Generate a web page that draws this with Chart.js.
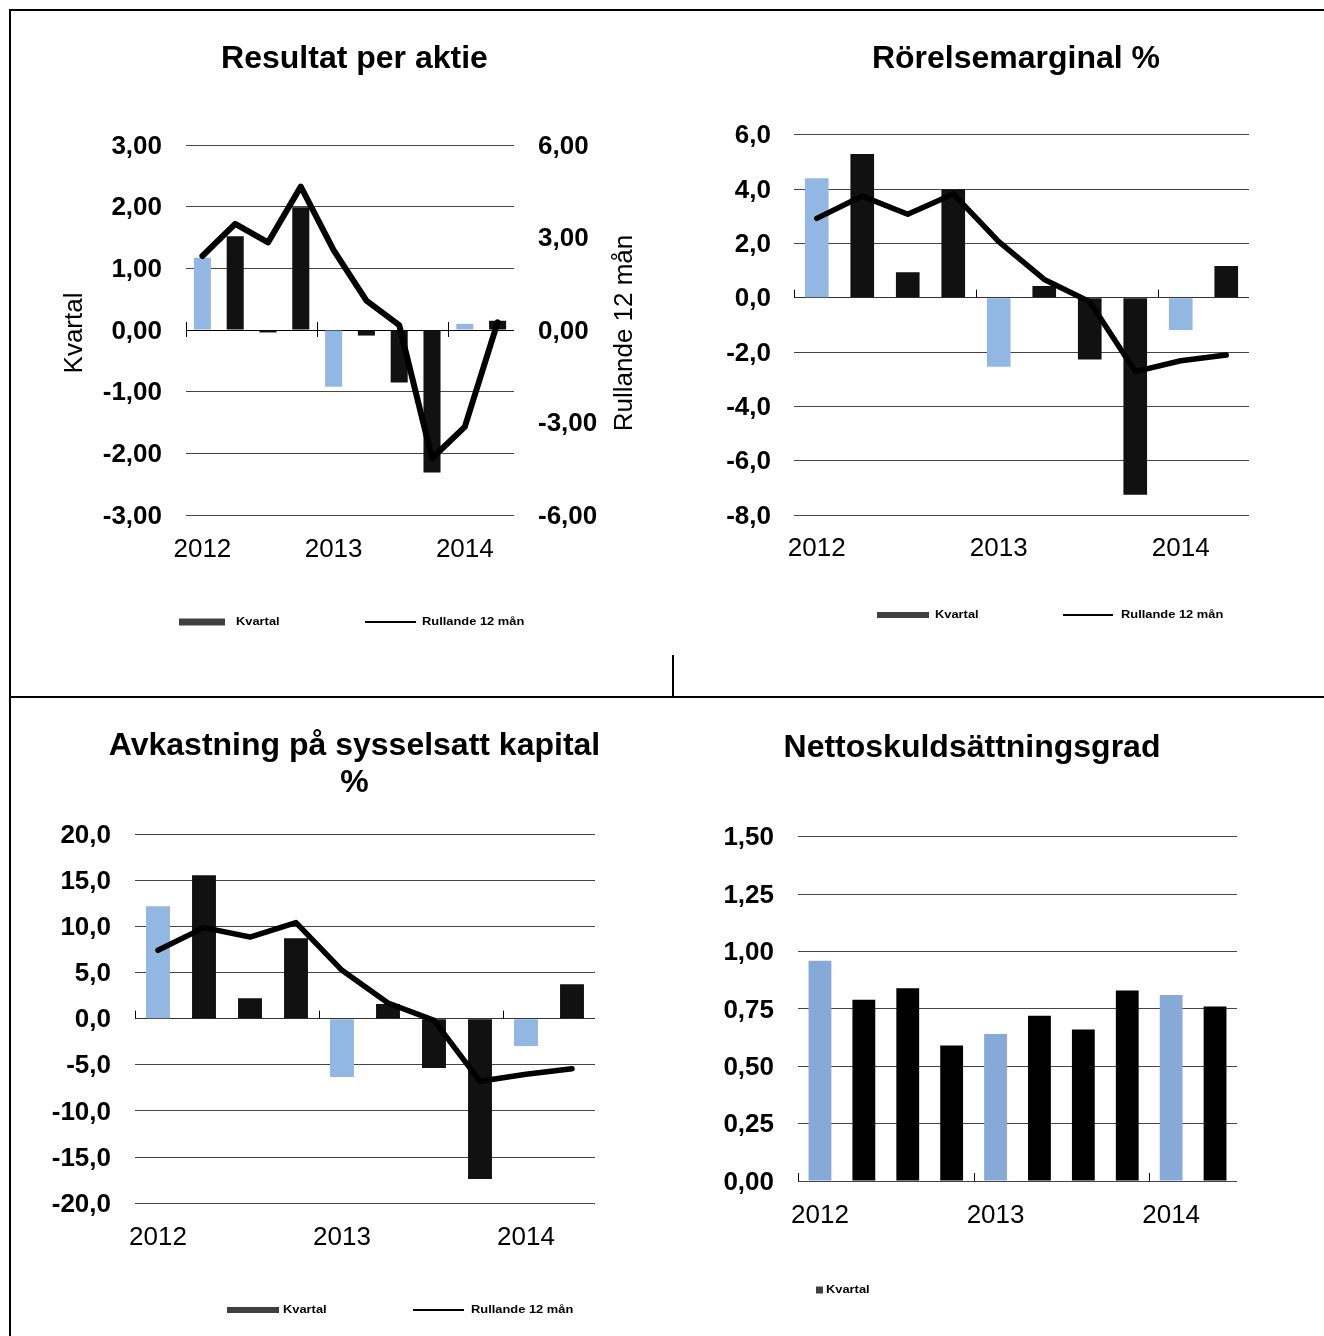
<!DOCTYPE html>
<html>
<head>
<meta charset="utf-8">
<script src="https://cdn.jsdelivr.net/npm/chart.js@4.4.1/dist/chart.umd.min.js"></script>
<style>
  html, body { margin: 0; padding: 0; background: #fff; }
  body { width: 1324px; height: 1336px; position: relative; overflow: hidden; }
  canvas { position: absolute; }
  .rule { position: absolute; background: #000; }
</style>
</head>
<body>
<div class="rule" style="left:9px;top:9px;width:1315px;height:2px"></div>
<div class="rule" style="left:9px;top:9px;width:2px;height:1327px"></div>
<div class="rule" style="left:9px;top:696px;width:1315px;height:2px"></div>
<div class="rule" style="left:672px;top:655px;width:2px;height:42px"></div>

<canvas id="eps" width="660" height="680" style="left:10px;top:12px"></canvas>
<canvas id="margin" width="640" height="680" style="left:680px;top:12px"></canvas>
<canvas id="roce" width="660" height="636" style="left:10px;top:700px"></canvas>
<canvas id="gearing" width="640" height="636" style="left:680px;top:700px"></canvas>

<script>
const FONT = '"Liberation Sans", Arial, sans-serif';
Chart.defaults.font.family = FONT;
Chart.defaults.color = '#000';

// quarters 2012 K1 .. 2014 K2
const quarters = ['2012 K1', '2012 K2', '2012 K3', '2012 K4', '2013 K1', '2013 K2', '2013 K3', '2013 K4', '2014 K1', '2014 K2'];
const yearTicks = ['2012', '', '', '', '2013', '', '', '', '2014', ''];

const epsQuarter = [1.17, 1.52, -0.04, 1.99, -0.92, -0.09, -0.85, -2.31, 0.10, 0.15];
const epsRolling = [2.40, 3.44, 2.84, 4.65, 2.59, 0.95, 0.16, -4.16, -3.14, 0.25];

const marginQuarter = [4.40, 5.29, 0.94, 3.99, -2.54, 0.43, -2.28, -7.25, -1.19, 1.17];
const marginRolling = [2.92, 3.74, 3.07, 3.82, 2.06, 0.67, -0.15, -2.72, -2.32, -2.11];

const roceQuarter = [12.17, 15.52, 2.20, 8.70, -6.32, 1.59, -5.34, -17.36, -2.96, 3.72];
const roceRolling = [7.40, 9.86, 8.84, 10.40, 5.23, 1.70, -0.18, -6.79, -6.03, -5.42];

const gearingQuarter = [0.96, 0.79, 0.84, 0.59, 0.64, 0.72, 0.66, 0.83, 0.81, 0.76];

const fmt = d => v => Number(v).toFixed(d).replace('.', ',');

// small tick marks on the zero line where each year starts
const groupTicks = {
  id: 'groupTicks',
  beforeDatasetsDraw(chart, args, opts) {
    const x = chart.scales.x, y = chart.scales.y;
    const zero = y.getPixelForValue(0);
    const half = (x.getPixelForValue(1) - x.getPixelForValue(0)) / 2;
    const ctx = chart.ctx;
    ctx.save();
    ctx.strokeStyle = '#000';
    ctx.lineWidth = 1;
    ctx.beginPath();
    yearTicks.forEach((t, i) => {
      if (!t) return;
      const px = Math.round(x.getPixelForValue(i) - half) + 0.5;
      ctx.moveTo(px, zero - opts.up);
      ctx.lineTo(px, zero + opts.down);
    });
    ctx.stroke();
    ctx.restore();
  }
};

// axis titles on both sides, both reading bottom to top
const sideTitles = {
  id: 'sideTitles',
  afterDraw(chart, args, opts) {
    if (!opts.left && !opts.right) return;
    const {ctx, chartArea: a} = chart;
    const cy = (a.top + a.bottom) / 2 + 3;
    const put = (text, cx) => {
      ctx.save();
      ctx.font = '26px ' + FONT;
      ctx.fillStyle = '#000';
      ctx.textAlign = 'center';
      ctx.textBaseline = 'middle';
      ctx.translate(cx, cy);
      ctx.rotate(-Math.PI / 2);
      ctx.fillText(text, 0, 0);
      ctx.restore();
    };
    if (opts.left) put(opts.left, a.left - opts.offset);
    if (opts.right) put(opts.right, a.right + opts.offset);
  }
};

// legend keys placed below the plot, names taken from the datasets
const keyLegend = {
  id: 'keyLegend',
  afterDraw(chart, args, o) {
    if (!o.items) return;
    const {ctx, chartArea: a} = chart;
    const cy = a.bottom + o.dy;
    o.items.forEach(it => {
      ctx.save();
      if (it.kind === 'box') {
        ctx.fillStyle = '#404040';
        ctx.fillRect(a.left + it.x, cy - it.h / 2, it.w, it.h);
      } else {
        ctx.strokeStyle = '#000';
        ctx.lineWidth = 2;
        ctx.beginPath();
        ctx.moveTo(a.left + it.x, cy);
        ctx.lineTo(a.left + it.x + it.w, cy);
        ctx.stroke();
      }
      ctx.translate(a.left + it.tx, cy);
      ctx.scale(1.17, 1);
      ctx.font = 'bold 11px ' + FONT;
      ctx.fillStyle = '#000';
      ctx.textBaseline = 'middle';
      ctx.fillText(chart.data.datasets[it.ds].label, 0, 0);
      ctx.restore();
    });
  }
};

function makeChart(id, s) {
  const datasets = [{
    type: 'bar', label: 'Kvartal', data: s.bars,
    backgroundColor: quarters.map(q => q.endsWith('K1') ? s.blue : s.dark),
    barPercentage: 0.52, categoryPercentage: 1, order: 2
  }];
  if (s.line) {
    datasets.push({
      type: 'line', label: 'Rullande 12 mån', data: s.line, yAxisID: s.right ? 'y1' : 'y',
      borderColor: '#000', borderWidth: s.lineWidth, pointRadius: 0, tension: 0,
      borderCapStyle: 'round', borderJoinStyle: 'round', order: 1
    });
  }

  const scales = {
    x: {
      ticks: {
        autoSkip: false, maxRotation: 0, minRotation: 0, padding: s.xPad,
        font: {size: 26}, color: '#000', callback: (v, i) => yearTicks[i]
      },
      grid: {display: false, drawTicks: false},
      border: {display: false},
      afterFit: sc => { sc.height = 60; }
    },
    y: {
      position: 'left', min: s.min, max: s.max,
      ticks: {
        stepSize: s.step, autoSkip: false, padding: s.yPad, labelOffset: 1.5,
        font: {size: 26, weight: 'bold'}, color: '#000', callback: fmt(s.dec)
      },
      grid: {
        drawTicks: false, lineWidth: 1,
        color: c => (c.tick && c.tick.value === 0) ? s.zeroColor : '#454545'
      },
      border: {display: false},
      afterFit: sc => { sc.width = s.yWidth; }
    }
  };
  if (s.right) {
    scales.y1 = {
      position: 'right', min: s.right.min, max: s.right.max,
      ticks: {
        stepSize: s.right.step, padding: 24, labelOffset: 1.5,
        font: {size: 26, weight: 'bold'}, color: '#000', callback: fmt(2)
      },
      grid: {display: false, drawTicks: false},
      border: {display: false},
      afterFit: sc => { sc.width = s.right.width; }
    };
  } else if (s.spacer) {
    // empty right-hand box, only to place the plot area
    scales.spacer = {
      type: 'linear', position: 'right',
      ticks: {display: false}, grid: {display: false, drawTicks: false}, border: {display: false},
      afterFit: sc => { sc.width = s.spacer; }
    };
  }

  return new Chart(document.getElementById(id), {
    type: 'bar',
    data: {labels: quarters, datasets: datasets},
    options: {
      responsive: false,
      animation: false,
      events: [],
      layout: {padding: s.pad},
      plugins: {
        title: {
          display: true, text: s.title, color: '#000',
          font: {size: 32, weight: 'bold', lineHeight: 1.15},
          padding: s.titlePad
        },
        legend: {display: false},
        tooltip: {enabled: false},
        groupTicks: {up: 8, down: s.tickDown},
        sideTitles: s.sideTitles || {},
        keyLegend: s.key
      },
      scales: scales
    },
    plugins: [groupTicks, sideTitles, keyLegend]
  });
}

makeChart('eps', {
  title: 'Resultat per aktie',
  bars: epsQuarter, line: epsRolling, lineWidth: 6,
  blue: '#93b7e3', dark: '#111111', zeroColor: '#000',
  min: -3, max: 3, step: 1, dec: 2,
  right: {min: -6, max: 6, step: 3, width: 100},
  sideTitles: {left: 'Kvartal', right: 'Rullande 12 mån', offset: 111},
  pad: {left: 85, right: 56, top: 0, bottom: 117},
  titlePad: {top: 28.6, bottom: 67.6},
  yWidth: 91, yPad: 24, xPad: 19, tickDown: 7,
  key: {dy: 107, items: [
    {kind: 'box', ds: 0, x: -7, w: 46, h: 7, tx: 50},
    {kind: 'line', ds: 1, x: 179, w: 51, tx: 236}
  ]}
});

makeChart('margin', {
  title: 'Rörelsemarginal %',
  bars: marginQuarter, line: marginRolling, lineWidth: 5.5,
  blue: '#93b7e3', dark: '#111111', zeroColor: '#333',
  min: -8, max: 6, step: 2, dec: 1,
  spacer: 69,
  pad: {left: 34, right: 2, top: 0, bottom: 117},
  titlePad: {top: 28.6, bottom: 57.3},
  yWidth: 80, yPad: 23, xPad: 18, tickDown: 0,
  key: {dy: 100, items: [
    {kind: 'box', ds: 0, x: 83, w: 52, h: 6, tx: 141},
    {kind: 'line', ds: 1, x: 269, w: 50, tx: 327}
  ]}
});

makeChart('roce', {
  title: ['Avkastning på sysselsatt kapital', '%'],
  bars: roceQuarter, line: roceRolling, lineWidth: 5.5,
  blue: '#93b7e3', dark: '#111111', zeroColor: '#333',
  min: -20, max: 20, step: 5, dec: 1,
  spacer: 74,
  pad: {left: 30, right: 1, top: 0, bottom: 72.7},
  titlePad: {top: 27.6, bottom: 32.8},
  yWidth: 95, yPad: 24, xPad: 18.6, tickDown: 0,
  key: {dy: 106.7, items: [
    {kind: 'box', ds: 0, x: 92, w: 52, h: 6, tx: 148},
    {kind: 'line', ds: 1, x: 278, w: 51, tx: 336}
  ]}
});

makeChart('gearing', {
  title: 'Nettoskuldsättningsgrad',
  bars: gearingQuarter, line: null,
  blue: '#87a9d7', dark: '#000000', zeroColor: '#454545',
  min: 0, max: 1.5, step: 0.25, dec: 2,
  pad: {left: 27, right: 83, top: 0, bottom: 95},
  titlePad: {top: 29.6, bottom: 70.3},
  yWidth: 91, yPad: 24, xPad: 19, tickDown: 0,
  key: {dy: 109, items: [
    {kind: 'box', ds: 0, x: 18, w: 7, h: 7, tx: 28}
  ]}
});
</script>
</body>
</html>
